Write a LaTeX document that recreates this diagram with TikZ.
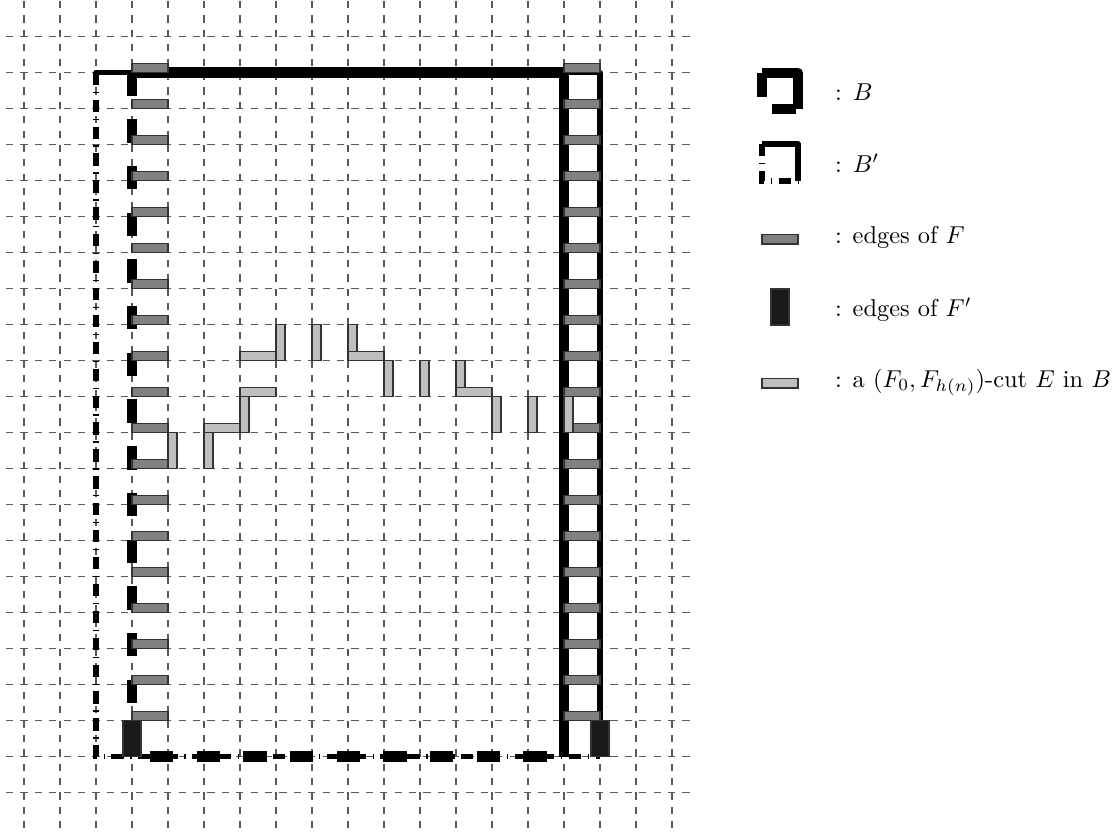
\documentclass[tikz,border=0pt]{standalone}
\tikzset{
  gridline/.style={draw=black!65,line width=.6pt,dash pattern=on 2.95pt off 2.95pt},
  thickB/.style={draw=black,line width=4.3pt,line cap=butt},
  thinB/.style={draw=black,line width=2.13pt,line cap=butt},
  dashB/.style={thickB,dash pattern=on 9.57pt off 9.57pt},
  dashBprime/.style={thinB,dash pattern=on 5.04pt off 2.73pt on .53pt off 2.73pt},
  edgeF/.style={draw=black!80,line width=.5pt,fill=black!50},
  edgeFp/.style={draw=black!80,line width=.5pt,fill=black!90},
  edgeE/.style={draw=black!80,line width=.5pt,fill=black!25},
  legendtext/.style={anchor=base west,inner sep=0pt,outer sep=0pt}
}
\newcommand{\vcut}[2]{\draw[edgeE] (#1,#2) rectangle ++(9,36);}
\newcommand{\hcut}[2]{\draw[edgeE] (#1,#2) rectangle ++(36,-9);}
\begin{document}
\begin{tikzpicture}[x=.41pt,y=-.41pt]
\useasboundingbox (0,0) rectangle (1117,834);
% grid
\foreach \k in {0,...,21} \draw[gridline] (6,36.7+36*\k) -- (690,36.7+36*\k);
\foreach \i in {0,...,18} \draw[gridline] (24+36*\i,1) -- (24+36*\i,829.5);
% B'
\draw[thinB,line join=round] (96,75) -- (96,72.7) -- (600,72.7) -- (600,757);
\draw[dashBprime] (96,72.7) -- (96,756.7) -- (600,756.7);
% B
\draw[thickB,line join=round] (132,72.7) -- (564,72.7) -- (564,756.7);
\draw[dashB] (132,72.7) -- (132,756.7);
\draw[dashB,dash phase=11.75pt] (132,756.7) -- (564,756.7);
% F' corners
\draw[edgeFp] (123,720.7) rectangle (141,756.7);
\draw[edgeFp] (591,720.7) rectangle (609,756.7);
% F
\foreach \k in {0,...,18} {
  \draw[edgeF] (132,72.7+36*\k) rectangle ++(36,-9);
  \draw[edgeF] (564,72.7+36*\k) rectangle ++(36,-9);
}
% cut E
\vcut{168}{432.7}
\vcut{204}{432.7}
\hcut{204}{432.7}
\vcut{240}{396.7}
\hcut{240}{396.7}
\hcut{240}{360.7}
\vcut{276}{324.7}
\vcut{312}{324.7}
\vcut{348}{324.7}
\hcut{348}{360.7}
\vcut{384}{360.7}
\vcut{420}{360.7}
\vcut{456}{360.7}
\hcut{456}{396.7}
\vcut{492}{396.7}
\vcut{528}{396.7}
\vcut{564}{396.7}
% legend
\draw[thickB] (762,96.7) -- (762,72.7);
\draw[thickB,line join=round] (762,73) -- (798,73) -- (798,109);
\draw[thickB] (772.3,109) -- (796,109);
\draw[thinB,line join=round] (762,144) -- (798,144) -- (798,181);
\draw[dashBprime] (762,144) -- (762,181) -- (798,181);
\draw[edgeF] (762,234.5) rectangle (798,244);
\draw[edgeFp] (771,289) rectangle (789,325);
\draw[edgeE] (762,378.5) rectangle (798,388);
\node[legendtext] (lb) at (835,100) {:\hspace{.45em}$B$};
\node[legendtext] (lbp) at (835,172) {:\hspace{.45em}$B'$};
\node[legendtext] (lf) at (835,243) {:\hspace{.45em}edges of $F$};
\node[legendtext] (lfp) at (835,316) {:\hspace{.45em}edges of $F'$};
\node[legendtext] (le) at (835,387) {:\hspace{.45em}a $(F_0,F_{h(n)})$-cut $E$ in $B$};
\end{tikzpicture}
\end{document}
